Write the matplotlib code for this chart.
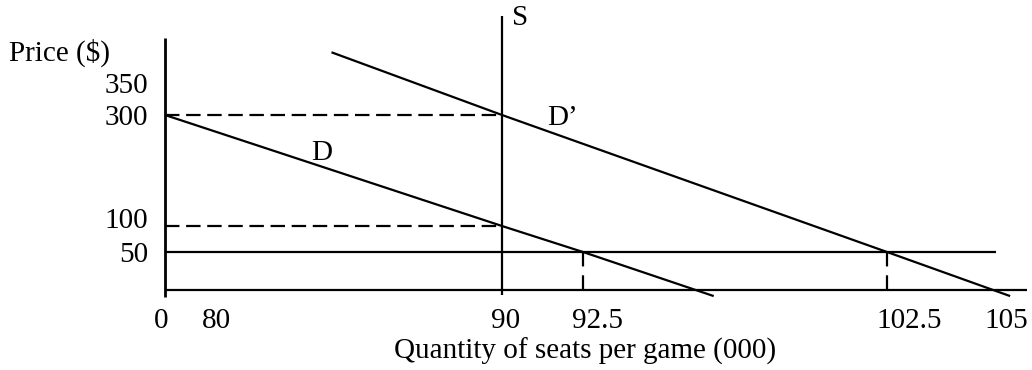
import numpy as np
import matplotlib
matplotlib.use("Agg")
import matplotlib.pyplot as plt
from matplotlib.transforms import offset_copy

# ---------------- data ----------------
x_tick_values = [0, 80, 90, 92.5, 102.5, 105]
x_tick_labels = ["0", "80", "90", "92.5", "102.5", "105"]
y_tick_values = [50, 100, 300, 350]
y_tick_labels = ["50", "100", "300", "350"]

# demand curves (quantity in 000 seats, price in $)
d_q = [0, 90, 92.5, 96.8]
d_p = [300, 100, 50, -8]
d2_q = [84.1, 90, 102.5, 105.35]
d2_p = [398, 300, 50, -8]

supply_q = 90
supply_p = [-7, 455]
price_floor = 50
floor_q = [0, 105.02]
dash_prices = [300, 100]
dash_q = [0, 90]
vdash_q = [92.5, 102.5]
vdash_p = [0, 50]
axis_q = [0.05, 105.75]
axis_p = [-9, 420]

# ---------------- schematic (non-linear) scale ----------------
# the drawing is a hand-made schematic, so the axes are piecewise linear
x_scale_src = [0, 80, 90, 92.5, 102.5, 105]
x_scale_dst = [165, 213, 502, 583, 887, 995]
y_scale_src = [0, 50, 100, 300, 350]
y_scale_dst = [370 - 290, 370 - 252, 370 - 226, 370 - 115, 370 - 83]
y_label_nudge = [0, 8, 0, 0]   # vertical pixel nudges of the price labels


def piecewise(src, dst):
    src = np.asarray(src, float)
    dst = np.asarray(dst, float)

    def make(a, b):
        def f(v):
            v = np.asarray(v, float)
            out = np.interp(v, a, b)
            out = np.where(v < a[0], b[0] + (v - a[0]) * (b[1] - b[0]) / (a[1] - a[0]), out)
            out = np.where(v > a[-1], b[-1] + (v - a[-1]) * (b[-1] - b[-2]) / (a[-1] - a[-2]), out)
            return out
        return f

    return make(src, dst), make(dst, src)


W, H = 1032, 370
plt.rcParams["font.family"] = ["Liberation Serif", "DejaVu Serif"]
FS = 21

fig = plt.figure(figsize=(W / 100, H / 100), dpi=100)
ax = fig.add_axes([0, 0, 1, 1])
fx, ix = piecewise(x_scale_src, x_scale_dst)
fy, iy = piecewise(y_scale_src, y_scale_dst)
ax.set_xscale("function", functions=(fx, ix))
ax.set_yscale("function", functions=(fy, iy))
ax.set_xlim(float(ix(0)), float(ix(W)))
ax.set_ylim(float(iy(0)), float(iy(H)))
ax.axis("off")

lw = 1.6
k = dict(color="black", lw=lw, solid_capstyle="butt")
dash = (0, (6.5, 3.0))

# axes
ax.plot([0, 0], axis_p, color="black", lw=2.0, solid_capstyle="butt")
ax.plot(axis_q, [0, 0], **k)

# supply
ax.plot([supply_q, supply_q], supply_p, **k)
# price line at 50
ax.plot(floor_q, [price_floor, price_floor], **k)
# demand curves
ax.plot(d_q, d_p, **k)
ax.plot(d2_q, d2_p, **k)
# dashed guides
for p in dash_prices:
    ax.plot(dash_q, [p, p], color="black", lw=lw, ls=dash)
for q in vdash_q:
    ax.plot([q, q], vdash_p[::-1], color="black", lw=lw, ls=(0, (6.5, 4.0)))

# tick labels
xt = offset_copy(ax.transData, fig=fig, x=-11, y=-28, units="dots")
for v, s in zip(x_tick_values, x_tick_labels):
    ax.text(v, 0, s, transform=xt, ha="left", va="center_baseline", fontsize=FS)
for v, s, n in zip(y_tick_values, y_tick_labels, y_label_nudge):
    yt = offset_copy(ax.transData, fig=fig, x=-17, y=n, units="dots")
    ax.text(0, v, s, transform=yt, ha="right", va="center_baseline", fontsize=FS)

# axis titles
ax.text(9, H - 50, "Price ($)", transform=None, ha="left", va="center_baseline", fontsize=FS)
ax.text(585, H - 348, "Quantity of seats per game (000)", transform=None,
        ha="center", va="center_baseline", fontsize=FS)

# curve labels
lab = offset_copy(ax.transData, fig=fig, x=10, y=1, units="dots")
ax.text(supply_q, supply_p[1], "S", transform=lab, ha="left", va="center_baseline", fontsize=FS)
ax.text(91.4, 300, "D\u2019", ha="left", va="center_baseline", fontsize=FS)
ax.text(83.4, 237, "D", ha="left", va="center_baseline", fontsize=FS)

fig.savefig("out.png", dpi=100)
